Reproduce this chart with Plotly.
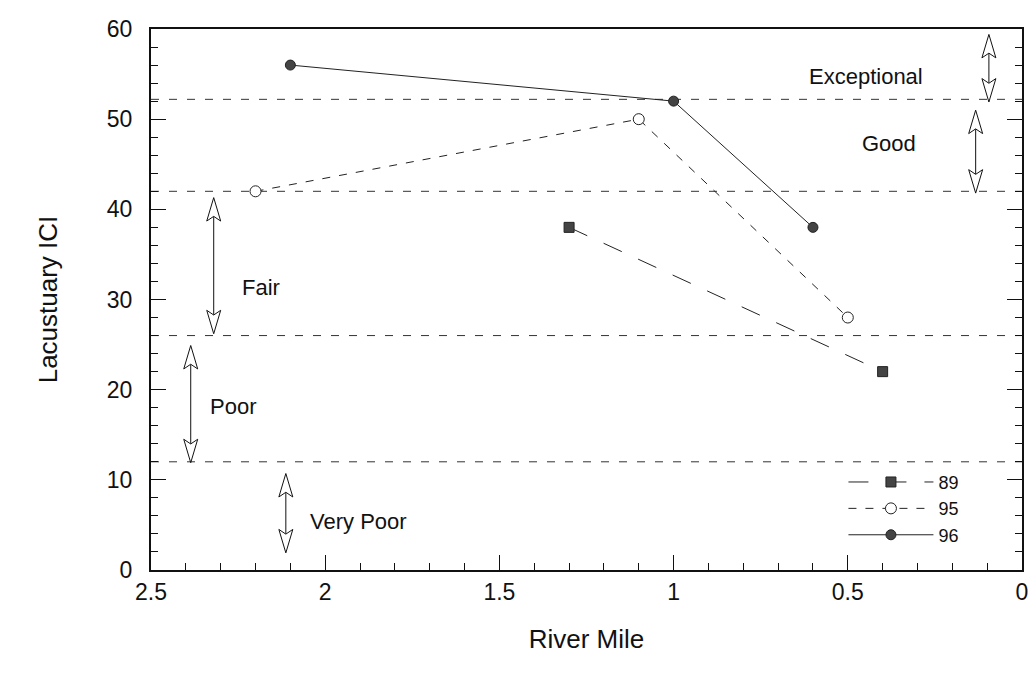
"""Lacustuary ICI vs river mile, recreated with Plotly."""

import plotly.graph_objects as go

FONT = dict(family="Liberation Sans, Arial, sans-serif", color="#111111", size=22)

# ── data ──────────────────────────────────────────────────────────
mile_89 = [1.3, 0.4]
ici_89 = [38, 22]
mile_95 = [2.2, 1.1, 0.5]
ici_95 = [42, 50, 28]
mile_96 = [2.1, 1.0, 0.6]
ici_96 = [56, 52, 38]

# category boundaries (horizontal dashed lines)
thresholds = [52.2, 42, 26, 12]

# category labels: text, x, y
labels = ["Exceptional", "Good", "Fair", "Poor", "Very Poor"]
label_x = [0.449, 0.381, 2.184, 2.264, 1.905]
label_y = [54.7, 47.3, 31.3, 18.1, 5.4]

# double arrows: x, bottom, top
arrow_x = [0.095, 0.133, 2.32, 2.386, 2.113]
arrow_lo = [51.9, 41.8, 26.2, 11.9, 1.9]
arrow_hi = [59.4, 51.0, 41.3, 24.9, 10.7]


def _arrow_shapes(x, lo, hi, head=2.6, half=0.02):
    """Open-headed double arrow built as line + two outlined triangles."""
    shaft = dict(type="line", xref="x", yref="y", x0=x, x1=x, y0=lo + head * 0.8,
                 y1=hi - head * 0.8, line=dict(color="#111", width=1))
    up = (f"M {x} {hi} L {x - half} {hi - head} L {x} {hi - head * 0.8} "
          f"L {x + half} {hi - head} Z")
    dn = (f"M {x} {lo} L {x - half} {lo + head} L {x} {lo + head * 0.8} "
          f"L {x + half} {lo + head} Z")
    heads = [dict(type="path", xref="x", yref="y", path=p, fillcolor="white",
                  line=dict(color="#111", width=1)) for p in (up, dn)]
    return [shaft] + heads


fig = go.Figure()

fig.add_trace(go.Scatter(
    x=mile_89, y=ici_89, name="89", mode="lines+markers",
    line=dict(color="#222", width=1, dash="20px,18px"),
    marker=dict(symbol="square", size=10, color="#444", line=dict(color="#222", width=1)),
))
fig.add_trace(go.Scatter(
    x=mile_95, y=ici_95, name="95", mode="lines+markers",
    line=dict(color="#222", width=1, dash="8px,9px"),
    marker=dict(symbol="circle", size=11, color="white", line=dict(color="#222", width=1)),
))
fig.add_trace(go.Scatter(
    x=mile_96, y=ici_96, name="96", mode="lines+markers",
    line=dict(color="#222", width=1),
    marker=dict(symbol="circle", size=10, color="#444", line=dict(color="#222", width=1)),
))

shapes = []
for t in thresholds:
    shapes.append(dict(type="line", xref="paper", yref="y", x0=0, x1=1, y0=t, y1=t,
                       line=dict(color="#333", width=1, dash="8px,10px"), layer="below"))
for x, lo, hi in zip(arrow_x, arrow_lo, arrow_hi):
    shapes += _arrow_shapes(x, lo, hi)

for text, x, y in zip(labels, label_x, label_y):
    fig.add_annotation(x=x, y=y, text=text, showarrow=False,
                       font=dict(size=22, family=FONT["family"], color="#111"))

axis_common = dict(
    showgrid=False, zeroline=False, showline=True, linecolor="#111", linewidth=2,
    ticks="inside", ticklen=15, tickwidth=1, tickcolor="#111",
    tickfont=dict(size=23),
)

fig.update_xaxes(
    range=[2.5, 0], dtick=0.5, mirror=True, ticklabelstandoff=0,
    minor=dict(ticks="inside", ticklen=7, dtick=0.1, tickcolor="#111", showgrid=False),
    title=dict(text="River Mile", font=dict(size=26), standoff=26),
    **axis_common,
)
fig.update_yaxes(
    range=[0, 60], dtick=10, mirror="ticks", ticklabelstandoff=12,
    minor=dict(ticks="inside", ticklen=7, dtick=2, tickcolor="#111", showgrid=False),
    title=dict(text="Lacustuary ICI", font=dict(size=26), standoff=42),
    **axis_common,
)

# page body adds an 8px offset, so the figure is sized to fit inside the window
fig.update_layout(
    width=1028, height=677,
    template="plotly_white", paper_bgcolor="white", plot_bgcolor="white",
    font=FONT, margin=dict(l=143, r=8, t=19, b=115),
    shapes=shapes,
    legend=dict(x=0.795, y=0.03, xanchor="left", yanchor="bottom",
                bgcolor="rgba(0,0,0,0)", font=dict(size=18), tracegroupgap=0,
                itemwidth=85),
)

fig.write_html("out.html")
